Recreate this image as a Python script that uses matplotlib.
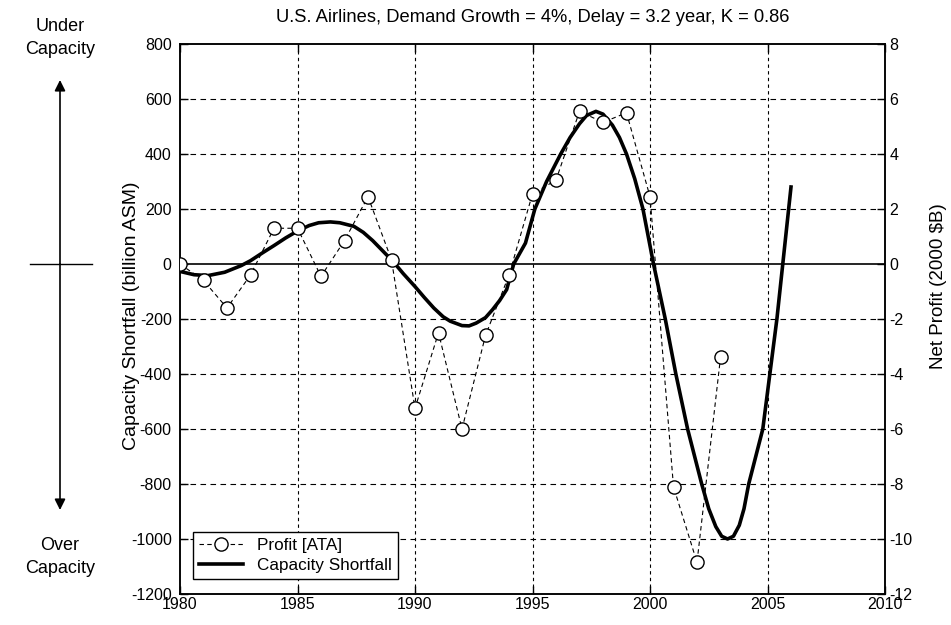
import matplotlib
matplotlib.use("Agg")
import matplotlib.pyplot as plt
from matplotlib.lines import Line2D

plt.rcParams["font.family"] = ["Liberation Sans", "DejaVu Sans"]
plt.rcParams["font.size"] = 11.5
plt.rcParams["axes.unicode_minus"] = False

# Profit [ATA], net profit in 2000 $B (right axis)
profit_years = list(range(1980, 2004))
profit_values = [0.0, -0.6, -1.6, -0.4, 1.3, 1.3, -0.45, 0.85, 2.45, 0.15,
                 -5.25, -2.5, -6.0, -2.6, -0.4, 2.55, 3.05, 5.55, 5.15, 5.5,
                 2.45, -8.1, -10.85, -3.4]

# Capacity shortfall, billion ASM (left axis)
cap_years = [1980.0, 1980.6, 1981.2, 1981.9, 1982.6, 1983.0, 1983.5, 1984.0,
             1984.5, 1985.0, 1985.5, 1985.9, 1986.4, 1986.8, 1987.4, 1987.8,
             1988.2, 1988.6, 1989.1, 1989.5, 1990.0, 1990.4, 1990.8, 1991.2,
             1991.5, 1992.0, 1992.3, 1992.6, 1993.0, 1993.3, 1993.6, 1993.9,
             1994.2, 1994.7, 1995.1, 1995.6, 1996.2, 1996.6, 1997.0, 1997.3,
             1997.7, 1998.0, 1998.4, 1998.7, 1999.0, 1999.35, 1999.7, 2000.15,
             2000.65, 2001.1, 2001.6, 2002.2, 2002.5, 2002.8, 2003.05, 2003.3,
             2003.55, 2003.8, 2004.0, 2004.2, 2004.5, 2004.8, 2005.1, 2005.4,
             2005.65, 2006.0]
cap_values = [-27, -39, -42, -30, -6, 12, 40, 67,
              95, 120, 140, 150, 153, 150, 137, 115,
              85, 50, 6, -35, -82, -122, -160, -192,
              -208, -224, -225, -215, -195, -166, -133, -93,
              0, 76, 200, 300, 400, 460, 510, 540,
              555, 545, 505, 460, 400, 310, 200, 0,
              -200, -400, -600, -800, -890, -955, -990, -1000,
              -990, -950, -890, -800, -700, -600, -400, -200,
              0, 280]

x_ticks = list(range(1980, 2011, 5))
left_ticks = list(range(-1200, 801, 200))
right_ticks = list(range(-12, 9, 2))

fig = plt.figure(figsize=(9.51, 6.25), dpi=100)
ax = fig.add_axes([180 / 951, 31 / 625, 705 / 951, 550 / 625])
ax2 = ax.twinx()

for x in x_ticks[1:-1]:
    ax.axvline(x, color="black", linewidth=0.8, linestyle=(0, (3, 3)), zorder=1)
for y in left_ticks[1:-1]:
    if y != 0:
        ax.axhline(y, color="black", linewidth=0.8, linestyle=(0, (5, 4)),
                   zorder=1)
ax.axhline(0, color="black", linewidth=1.2, zorder=2)

ax.plot(cap_years, cap_values, color="black", linewidth=2.6, zorder=3,
        solid_joinstyle="round")
ax2.plot(profit_years, profit_values, color="black", linestyle=(0, (4, 3)),
         linewidth=0.8, marker="o", markersize=9.5,
         markerfacecolor="white", markeredgecolor="black",
         markeredgewidth=1.0, zorder=4)

ax.set_xlim(1980, 2010)
ax.set_ylim(-1200, 800)
ax2.set_ylim(-12, 8)
ax.set_xticks(x_ticks)
ax.set_yticks(left_ticks)
ax2.set_yticks(right_ticks)

ax.tick_params(direction="in", length=6, width=1, top=True, right=False)
ax.tick_params(axis="y", pad=6)
ax.tick_params(axis="x", pad=2)
ax2.tick_params(direction="in", length=6, width=1, pad=3)
for a in (ax, ax2):
    for s in a.spines.values():
        s.set_linewidth(1.1)

ax.set_title("U.S. Airlines, Demand Growth = 4%, Delay = 3.2 year, K = 0.86",
             fontsize=13.2, pad=16)
ax.set_ylabel("Capacity Shortfall (billion ASM)", fontsize=14)
ax.yaxis.set_label_coords(-0.057, 0.505)
ax2.set_ylabel(r"Net Profit (2000 \$B)", fontsize=13.5)
ax2.yaxis.set_label_coords(1.064, 0.56)

handles = [
    Line2D([], [], color="black", linestyle=(0, (4, 3)), linewidth=0.8,
           marker="o", markersize=9.5, markerfacecolor="white",
           markeredgecolor="black"),
    Line2D([], [], color="black", linewidth=2.6),
]
leg = ax2.legend(handles, ["Profit [ATA]", "Capacity Shortfall"],
                 loc="lower left", bbox_to_anchor=(0.006, 0.012),
                 fancybox=False, edgecolor="black", framealpha=1,
                 handlelength=2.6, borderpad=0.35, labelspacing=0.3,
                 fontsize=12.3)
leg.get_frame().set_linewidth(1.0)

# side annotation: under / over capacity arrows
fx = 60 / 951
fig.text(fx, 1 - 38 / 625, "Under\nCapacity", ha="center", va="center",
         fontsize=13, linespacing=1.5)
fig.text(fx, 1 - 557 / 625, "Over\nCapacity", ha="center", va="center",
         fontsize=13, linespacing=1.5)
ax.annotate("", xy=(fx, 1 - 80 / 625), xytext=(fx, 1 - 264 / 625),
            xycoords="figure fraction", textcoords="figure fraction",
            arrowprops=dict(arrowstyle="-|>", color="black", lw=1.2,
                            mutation_scale=16, shrinkA=0, shrinkB=0))
ax.annotate("", xy=(fx, 1 - 510 / 625), xytext=(fx, 1 - 264 / 625),
            xycoords="figure fraction", textcoords="figure fraction",
            arrowprops=dict(arrowstyle="-|>", color="black", lw=1.2,
                            mutation_scale=16, shrinkA=0, shrinkB=0))
fig.add_artist(Line2D([30 / 951, 92 / 951], [1 - 264 / 625, 1 - 264 / 625],
                      color="black", linewidth=1.0,
                      transform=fig.transFigure))

fig.savefig("out.png", dpi=100)
